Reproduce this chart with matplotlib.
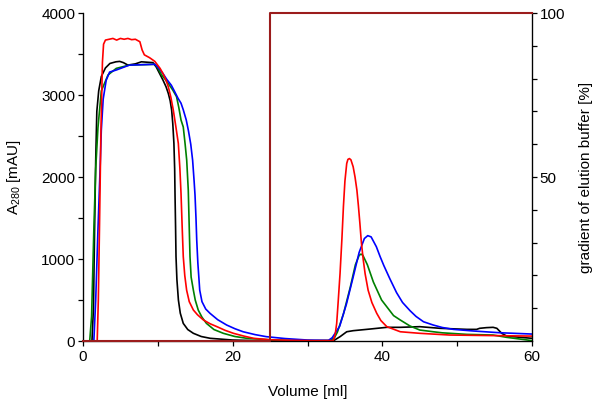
import matplotlib
matplotlib.use("Agg")
import matplotlib.pyplot as plt
from matplotlib.ticker import MultipleLocator, FixedLocator

plt.rcParams['font.family'] = ['Liberation Sans', 'DejaVu Sans']
plt.rcParams['mathtext.fontset'] = 'custom'
plt.rcParams['mathtext.rm'] = 'Liberation Sans'
plt.rcParams['mathtext.it'] = 'Liberation Sans:italic'

# ---- data ----
black_x = [0, 1.2, 1.4, 1.55, 1.7, 1.85, 2.1, 2.45, 3.0, 3.6, 4.4, 4.9, 5.4, 6.0, 7.0, 7.8, 9.35, 9.8,
           10.25, 10.7, 11.1, 11.4, 11.65, 11.85, 12.0, 12.15, 12.25, 12.3, 12.37, 12.43, 12.55, 12.75,
           13.0, 13.4, 14.0, 14.75, 15.8, 17, 20, 23, 26, 30, 33.5, 34.35, 35.24, 36.1, 38.35, 40.6,
           42.4, 45, 47.7, 51.3, 52.6, 53.0, 53.9, 54.8, 55.3, 55.95, 56.6, 58.4, 60]
black_y = [0, 0, 400, 1354, 2200, 2800, 3050, 3225, 3330, 3385, 3405, 3410, 3395, 3365, 3380, 3405, 3395, 3340,
           3260, 3180, 3100, 3020, 2930, 2815, 2650, 2410, 2100, 1780, 1400, 1030, 750, 500,
           340, 215, 140, 94, 55, 33, 12, 5, 3, 2, 5, 53, 113, 126, 146, 167,
           167, 175, 155, 142, 142, 155, 163, 167, 155, 94, 61, 45, 33]

green_x = [0, 0.9, 1.15, 1.45, 1.7, 2.0, 2.45, 3.35, 4.45, 6.2, 8.0, 9.6, 10.0, 10.5, 11.0, 11.4, 12.0,
           12.5, 12.8, 13.1, 13.4, 13.65, 13.86, 14.07, 14.18, 14.3, 14.45, 14.75, 15.0, 15.4, 15.9,
           16.5, 17.5, 18.75, 20.3, 21.9, 25, 28, 31, 33.0, 33.6, 34.0, 34.8, 35.7, 36.4, 36.9, 37.15,
           37.4, 38.0, 38.8, 39.9, 41.5, 42.4, 43.7, 45.0, 46.8, 48, 51.3, 54.8, 56.6, 60]
green_y = [0, 0, 300, 1354, 2100, 2600, 3050, 3245, 3325, 3365, 3370, 3375, 3330, 3245, 3190, 3140, 3060,
           2980, 2850, 2695, 2610, 2400, 2205, 1840, 1450, 1030, 780, 620, 500, 378, 290,
           215, 140, 94, 55, 33, 15, 8, 4, 5, 40, 110, 330, 650, 930, 1045, 1060,
           1045, 930, 720, 500, 310, 256, 183, 134, 113, 100, 81, 73, 45, 5]

blue_x = [0, 1.45, 1.7, 2.0, 2.25, 2.45, 2.7, 3.1, 3.56, 4.45, 6.2, 8.0, 9.6, 10.2, 10.7, 11.2, 11.8,
          12.2, 12.7, 13.1, 13.4, 13.8, 14.1, 14.4, 14.65, 14.85, 14.97, 15.1, 15.2, 15.35, 15.6, 15.9,
          16.4, 16.97, 18.0, 19.2, 20.3, 21.4, 23, 24.5, 27, 30, 32.8, 33.3, 34.3, 35.2, 36.1, 36.9,
          37.6, 38.05, 38.5, 39.2, 39.7, 40.2, 41.0, 41.9, 42.7, 43.7, 44.5, 45.5, 46.8, 48, 49.5,
          52.2, 55.7, 60]
blue_y = [0, 0, 500, 1354, 2000, 2573, 2950, 3180, 3280, 3305, 3365, 3370, 3375, 3320, 3260, 3190, 3120,
          3050, 2960, 2900, 2820, 2695, 2560, 2400, 2205, 1950, 1780, 1500, 1230, 950, 620, 480,
          390, 338, 260, 195, 150, 113, 78, 53, 30, 12, 8, 40, 180, 450, 780, 1080,
          1250, 1285, 1270, 1150, 1030, 920, 760, 590, 470, 370, 300, 235, 195, 165, 142,
          122, 101, 85]

red_x = [0, 1.9, 2.05, 2.2, 2.4, 2.6, 2.75, 3.0, 3.5, 4.0, 4.5, 5.0, 5.5, 6.0, 6.5, 7.0, 7.6, 7.9, 8.2, 8.9,
         9.6, 10.3, 10.7, 11.1, 11.4, 11.75, 12.07, 12.4, 12.74, 12.95, 13.1, 13.25, 13.4, 13.6, 13.85,
         14.2, 14.75, 15.3, 16.1, 17.0, 17.9, 19.0, 20.1, 21.5, 22.8, 25, 28, 31,
         33.45, 33.7, 33.9, 34.1, 34.35, 34.6, 34.8, 35.0, 35.24, 35.4, 35.6, 35.8, 36.1, 36.35, 36.6,
         36.8, 37.0, 37.2, 37.45, 37.7, 38.1, 38.6, 39.25, 39.8, 40.6, 42.4, 45, 49, 60]
red_y = [0, 0, 500, 1354, 2573, 3400, 3620, 3670, 3680, 3690, 3670, 3690, 3680, 3690, 3675, 3680, 3650, 3550,
         3490, 3455, 3410, 3325, 3260, 3180, 3100, 2970, 2815, 2620, 2410, 2100, 1800, 1400, 1030, 800, 620,
         480, 378, 320, 256, 210, 175, 130, 94, 60, 33, 15, 8, 4,
         5, 80, 215, 480, 825, 1250, 1640, 1950, 2165, 2215, 2225, 2210, 2125, 2000, 1840,
         1650, 1435, 1200, 990, 820, 620, 470, 338, 250, 175, 113, 94, 73, 60]

grad_x = [0, 25, 25, 60]
grad_y = [0, 0, 100, 100]

# ---- figure ----
fig = plt.figure(figsize=(6.0, 4.03), dpi=100)
ax = fig.add_axes([0.1383, 0.1538, 0.7484, 0.8139])
ax2 = ax.twinx()

lw = 1.2
ax.plot(black_x, black_y, color='black', lw=lw)
ax.plot(green_x, green_y, color='#008000', lw=lw)
ax.plot(blue_x, blue_y, color='#0000FF', lw=lw)
ax.plot(red_x, red_y, color='#FF0000', lw=lw)
ax2.plot(grad_x, grad_y, color='#9B1C1C', lw=1.5, clip_on=False, zorder=5)

ax.set_xlim(0, 60)
ax.set_ylim(0, 4000)
ax2.set_ylim(0, 100)

for a in (ax, ax2):
    a.spines['top'].set_visible(False)

ax.xaxis.set_major_locator(MultipleLocator(20))
ax.xaxis.set_minor_locator(MultipleLocator(10))
ax.yaxis.set_major_locator(MultipleLocator(1000))
ax.yaxis.set_minor_locator(MultipleLocator(500))
ax2.yaxis.set_major_locator(FixedLocator([50, 100]))
ax2.yaxis.set_minor_locator(FixedLocator([10, 20, 30, 40, 60, 70, 80, 90]))

ax.tick_params(which='both', direction='out', length=3.5, width=0.9, labelsize=11, pad=2)
ax.tick_params(axis='x', which='both', pad=3)
ax2.tick_params(which='both', direction='out', length=3.5, width=0.9, labelsize=11, pad=2)

for s in ('left', 'bottom'):
    ax.spines[s].set_linewidth(0.9)
ax2.spines['right'].set_linewidth(0.9)

ax.set_xlabel('Volume [ml]', fontsize=11, labelpad=15)
ax.set_ylabel(r'A$_{\mathrm{280}}$ [mAU]', fontsize=11, labelpad=13)
ax2.set_ylabel('gradient of elution buffer [%]', fontsize=11, labelpad=10)

fig.savefig('out.png', dpi=100)
